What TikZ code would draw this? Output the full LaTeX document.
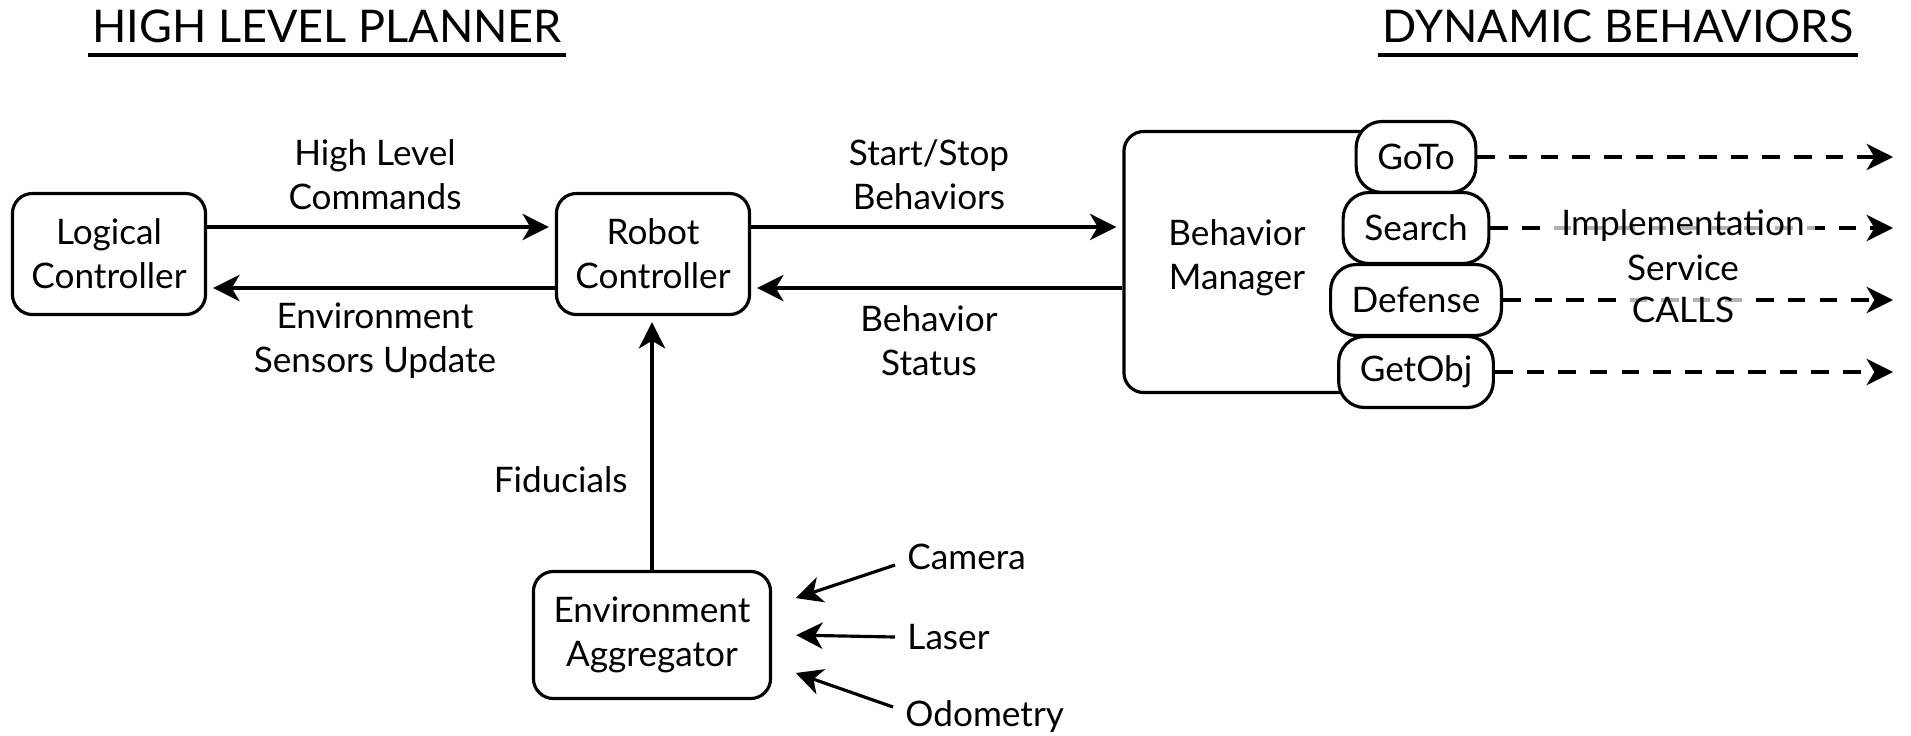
\documentclass[tikz,border=0pt]{standalone}
\usepackage{fontspec}
\setmainfont{Lato}
\usetikzlibrary{arrows.meta, positioning}

\begin{document}
\begin{tikzpicture}[x=0.01cm, y=-0.01cm,
  every node/.style={font=\fontsize{10}{12.6}\selectfont},
  ctrl/.style={draw,line width=0.9pt,rounded corners=0.2cm,align=center,minimum width=1.93cm,minimum height=1.21cm,inner sep=2pt},
  behav/.style={draw,line width=0.9pt,fill=white,rounded corners=0.26cm,minimum height=0.71cm,inner xsep=6pt},
  tag/.style={align=center},
  heading/.style={font=\fontsize{12.8}{15}\selectfont,inner xsep=1pt,anchor=base},
  flow/.style={-{Stealth[length=7.5pt,width=7.5pt,inset=2.2pt]},line width=0.9pt,shorten >=0.06cm},
  call/.style={flow,dash pattern=on 5pt off 4pt},
  veil/.style={fill=white,fill opacity=0.7,text opacity=1,inner xsep=3pt,inner ysep=1pt}
]
\useasboundingbox (0,0) rectangle (1911,736);
% headings
\node[heading] (hlp) at (327,42) {HIGH LEVEL PLANNER};
\node[heading] (dyn) at (1618,42) {DYNAMIC BEHAVIORS};
\draw[line width=0.9pt] ([yshift=-0.13cm]hlp.base west) -- ([yshift=-0.13cm]hlp.base east);
\draw[line width=0.9pt] ([yshift=-0.13cm]dyn.base west) -- ([yshift=-0.13cm]dyn.base east);
% planner side
\node[ctrl] (lc) at (109,254) {Logical\\Controller};
\node[ctrl] (rc) at (653,254) {Robot\\Controller};
\node[ctrl,minimum width=2.37cm,minimum height=1.27cm] (agg) at (652,635) {Environment\\Aggregator};
\coordinate (lcTop) at ([yshift=0.27cm]lc.east);
\coordinate (lcLow) at ([yshift=-0.34cm]lc.east);
\draw[flow] (lcTop) -- (lcTop -| rc.west);
\draw[flow] (lcLow -| rc.west) -- (lcLow);
\node[tag] (hlc) at (375,175) {High Level\\Commands};
\node[tag] (esu) at (375,341) {Environment\\Sensors Update};
\draw[flow] (agg.north) -- (agg.north |- rc.south);
\node[anchor=east] (fid) at (640,480) {Fiducials};
% sensors
\node[anchor=west] (cam) at (895,557) {Camera};
\node[anchor=west] (laser) at (895,637) {Laser};
\node[anchor=west] (odo) at (893,717) {Odometry};
\draw[flow] ([yshift=-0.08cm]cam.west) -- ([xshift=0.18cm,yshift=0.35cm]agg.east);
\draw[flow] (laser.west) -- ([xshift=0.18cm]agg.east);
\draw[flow] ([yshift=0.1cm]odo.west) -- ([xshift=0.18cm,yshift=-0.36cm]agg.east);
% behaviour side
\node[draw,line width=0.9pt,rounded corners=0.2cm,minimum width=2.9cm,minimum height=2.61cm] (bm) at (1269,262) {};
\node[tag] (bmtext) at (1237,258) {Behavior\\Manager};
\coordinate (rcTop) at ([yshift=0.27cm]rc.east);
\coordinate (rcLow) at ([yshift=-0.34cm]rc.east);
\draw[flow] (rcTop) -- (rcTop -| bm.west);
\draw[flow] (rcLow -| bm.west) -- (rcLow);
\node[tag] (ssb) at (929,175) {Start/Stop\\Behaviors};
\node[tag] (bst) at (929,341) {Behavior\\Status};
\node[behav] (goto) at (1416,157) {GoTo};
\node[behav] (search) at (1416,228) {Search};
\node[behav] (defense) at (1416,300) {Defense};
\node[behav] (getobj) at (1416,372) {GetObj};
\coordinate (callEnd) at (1899,0);
\foreach \b in {goto,search,defense,getobj}
  \draw[call] (\b.east) -- (\b.east -| callEnd);
\node[veil] (impl) at (1683,226) {Implementation};
\node[tag] (serv) at (1683,268) {Service};
\node[veil] (calls) at (1683,310) {CALLS};
\end{tikzpicture}
\end{document}
